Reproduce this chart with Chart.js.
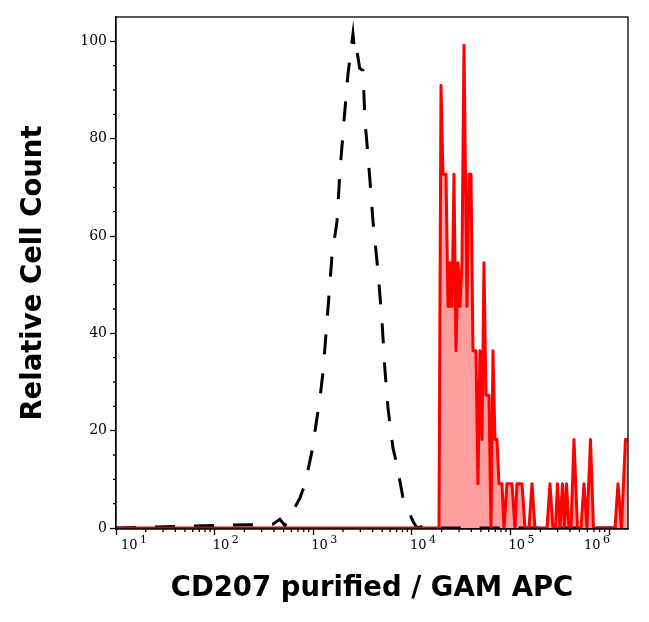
<!DOCTYPE html>
<html>
<head>
<meta charset="utf-8">
<script src="https://cdn.jsdelivr.net/npm/chart.js@4.4.1/dist/chart.umd.min.js"></script>
<style>
  html, body { margin: 0; padding: 0; background: #fff; }
  #wrap { width: 649px; height: 622px; }
</style>
</head>
<body>
<div id="wrap"><canvas id="histo" width="649" height="622"></canvas></div>
<script>
// isotype control, black dashed outline
const isoX = [10, 389, 459, 516, 622, 733, 824, 970, 1169, 1254, 1377, 1548, 1739, 1866, 2048, 2248, 2525,
  2650, 2773, 2950, 3190, 3342, 3501, 3758, 4030, 4527, 4970, 5332, 5718, 6424, 7051, 8107, 10240, 11240,
  14540, 17000, 1550000];
const isoY = [0, 0.8, 1.8, 0.5, 3.5, 6.2, 9, 15.8, 26.7, 32, 42.5, 56, 63, 73.4, 83.7, 93.3, 101.5,
  97, 98, 94.5, 94, 83.7, 79, 71.3, 63, 52.8, 42.5, 32.3, 24.7, 16.4, 13, 6.2, 1.4, 0,
  0.6, 0, 0];

// CD207 stained sample, red filled
const cd207X = [10, 18800, 19700, 20650, 22140, 23200, 23750, 24300, 25470, 26690,
  27970, 29300, 30700, 32170, 33700, 36140, 37870, 39680, 41570, 44590,
  46700, 48950, 51300, 53740, 56300, 60390, 63270, 66300, 69470, 72790,
  76270, 81800, 85700, 91930, 103300, 110800, 116100, 130500, 140000, 153700,
  164800, 176800, 233900, 250800, 269000, 285200, 298800, 316800, 335900, 351900,
  368700, 390900, 409700, 439200, 476600, 517100, 554600, 594800, 645500, 692200,
  1144000, 1227000, 1331000, 1461000, 1549000];
const cd207Y = [0, 0, 90.9, 72.7, 72.7, 45.5, 45.5, 54.5, 45.5, 72.7,
  36.4, 54.5, 45.5, 54.5, 99.2, 45.5, 72.7, 72.7, 36.4, 36.4,
  9.1, 36.4, 18.2, 54.5, 27.3, 27.3, 0, 36.4, 18.2, 18.2,
  9.1, 9.1, 0, 9.1, 9.1, 0, 9.1, 9.1, 0, 0,
  9.1, 0, 0, 9.1, 0, 0, 9.1, 0, 9.1, 0,
  9.1, 0, 0, 18.2, 0, 0, 9.1, 0, 18.2, 0,
  0, 9.1, 0, 18.2, 18.2];

const xMajorTicks = [10, 100, 1000, 10000, 100000, 1000000];
const yMajorTicks = [0, 20, 40, 60, 80, 100];
const xMin = 10, xMax = 1550000;
const yMin = -0.2, yMax = 105;

// 1..9 x each decade, plus every 5 on y
const xTickValues = [];
xMajorTicks.forEach(m => {
  for (let k = 1; k <= 9; k++) {
    if (k * m <= xMax) xTickValues.push(k * m);
  }
});
const yTickValues = [];
for (let v = 0; v <= 100; v += 5) yTickValues.push(v);

const toPoints = (xs, ys) => xs.map((x, i) => ({ x: x, y: ys[i] }));

const serif = "'DejaVu Serif', serif";

// box round the plot, short minor ticks, and the 10^n labels with a raised exponent
const frameAndTicks = {
  id: 'frameAndTicks',
  afterDraw(chart) {
    const { ctx, chartArea: a } = chart;
    const xs = chart.scales.x, ys = chart.scales.y;
    ctx.save();
    ctx.strokeStyle = '#000';
    ctx.lineWidth = 1.3;
    ctx.strokeRect(a.left, a.top, a.right - a.left, a.bottom - a.top);
    ctx.beginPath();
    xs.ticks.forEach(t => {
      if (xMajorTicks.includes(t.value)) return;
      const px = xs.getPixelForValue(t.value);
      ctx.moveTo(px, a.bottom);
      ctx.lineTo(px, a.bottom + 3);
    });
    ys.ticks.forEach(t => {
      if (yMajorTicks.includes(t.value)) return;
      const py = ys.getPixelForValue(t.value);
      ctx.moveTo(a.left, py);
      ctx.lineTo(a.left - 3, py);
    });
    ctx.stroke();

    ctx.fillStyle = '#000';
    ctx.textAlign = 'left';
    ctx.textBaseline = 'alphabetic';
    xMajorTicks.forEach(v => {
      const px = xs.getPixelForValue(v);
      const exp = String(Math.round(Math.log10(v)));
      ctx.font = '13px ' + serif;
      const wBase = ctx.measureText('10').width;
      ctx.font = '11px ' + serif;
      const wExp = ctx.measureText(exp).width;
      const total = wBase + 2.5 + wExp;
      let x0 = px - 2;
      if (x0 < a.left + 5) x0 = a.left + 5;
      if (x0 + total > a.right - 18) x0 = a.right - 18 - total;
      ctx.font = '13px ' + serif;
      ctx.fillText('10', x0, a.bottom + 20);
      ctx.font = '11px ' + serif;
      ctx.fillText(exp, x0 + wBase + 2.5, a.bottom + 14);
    });
    ctx.restore();
  }
};

const titleFont = { family: "'DejaVu Sans', sans-serif", size: 27.5, weight: 'bold' };

new Chart(document.getElementById('histo'), {
  type: 'line',
  data: {
    datasets: [
      {
        label: 'CD207 purified',
        data: toPoints(cd207X, cd207Y),
        borderColor: '#ff0000',
        backgroundColor: 'rgba(255,0,0,0.38)',
        borderWidth: 3,
        borderJoinStyle: 'round',
        pointRadius: 0,
        tension: 0,
        fill: 'origin',
        segment: {
          // zero runs sit on top of the black baseline and read darker
          borderColor: c => (c.p0.parsed.y === 0 && c.p1.parsed.y === 0) ? '#a81212' : undefined
        }
      },
      {
        label: 'Isotype control',
        data: toPoints(isoX, isoY),
        borderColor: '#000000',
        borderWidth: 3,
        borderDash: [20, 19],
        pointRadius: 0,
        tension: 0,
        fill: false
      }
    ]
  },
  options: {
    responsive: false,
    animation: false,
    events: [],
    layout: { padding: { top: 17, right: 21, left: 0, bottom: 0 } },
    plugins: {
      legend: { display: false },
      tooltip: { enabled: false },
      filler: { drawTime: 'beforeDatasetsDraw' }
    },
    scales: {
      x: {
        type: 'logarithmic',
        min: xMin,
        max: xMax,
        afterBuildTicks: scale => { scale.ticks = xTickValues.map(v => ({ value: v })); },
        afterFit: scale => { scale.height = 93; },
        border: { display: true, color: '#000', width: 1.3 },
        grid: {
          display: true,
          drawOnChartArea: false,
          drawTicks: true,
          tickLength: 6,
          tickWidth: 1.3,
          tickColor: c => (c.tick && xMajorTicks.includes(c.tick.value)) ? '#000' : 'rgba(0,0,0,0)'
        },
        ticks: {
          autoSkip: false,
          maxRotation: 0,
          color: '#000',
          font: { family: serif, size: 13 },
          // labels are drawn by the frameAndTicks plugin (exponent raised)
          callback: () => ''
        },
        title: {
          display: true,
          text: 'CD207 purified / GAM APC',
          color: '#000',
          font: titleFont,
          padding: { top: 0, bottom: 17 }
        }
      },
      y: {
        type: 'linear',
        min: yMin,
        max: yMax,
        afterBuildTicks: scale => { scale.ticks = yTickValues.map(v => ({ value: v })); },
        afterFit: scale => { scale.width = 116; },
        border: { display: true, color: '#000', width: 1.3 },
        grid: {
          display: true,
          drawOnChartArea: false,
          drawTicks: true,
          tickLength: 6,
          tickWidth: 1.3,
          tickColor: c => (c.tick && yMajorTicks.includes(c.tick.value)) ? '#000' : 'rgba(0,0,0,0)'
        },
        ticks: {
          autoSkip: false,
          padding: 3,
          color: '#000',
          font: { family: serif, size: 14 },
          callback: value => yMajorTicks.includes(value) ? String(value) : ''
        },
        title: {
          display: true,
          text: 'Relative Cell Count',
          color: '#000',
          font: titleFont,
          padding: { top: 17, bottom: 0 }
        }
      }
    }
  },
  plugins: [frameAndTicks]
});
</script>
</body>
</html>
